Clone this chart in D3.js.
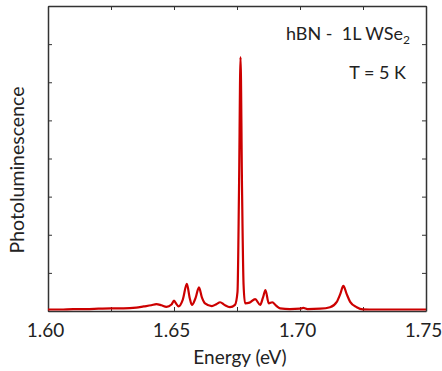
<!DOCTYPE html>
<html>
<head>
<meta charset="utf-8">
<script src="https://cdn.jsdelivr.net/npm/d3@7"></script>
<style>
  body { margin: 0; background: #fff; }
  text { font-family: Lato, "Open Sans", sans-serif; font-weight: 400; fill: #222; white-space: pre; }
</style>
</head>
<body>
<figure id="pl" style="margin:0"></figure>
<script>
// PL spectrum (energy in eV, intensity in arb. units)
const energy = [
  1.600, 1.605, 1.610, 1.615, 1.620, 1.625, 1.630, 1.635, 1.638, 1.641,
  1.643, 1.645, 1.647, 1.649, 1.650, 1.651, 1.6518, 1.6535, 1.6551, 1.6562,
  1.6571, 1.6586, 1.6599, 1.6611, 1.6623, 1.6650, 1.6668, 1.6683, 1.6700, 1.6722,
  1.6742, 1.6752, 1.6758, 1.6764, 1.6770, 1.6776, 1.6782, 1.6800, 1.6822, 1.6842,
  1.6853, 1.6863, 1.6876, 1.6890, 1.6905, 1.6921, 1.6960, 1.7000, 1.7013, 1.7030,
  1.7080, 1.7119, 1.7146, 1.7160, 1.7172, 1.7185, 1.7199, 1.7225, 1.7250, 1.7300,
  1.7400, 1.7500
];
const intensity = [
  0.04, 0.04, 0.05, 0.05, 0.06, 0.07, 0.07, 0.09, 0.12, 0.15,
  0.18, 0.15, 0.11, 0.17, 0.27, 0.18, 0.12, 0.30, 0.71, 0.35,
  0.16, 0.35, 0.62, 0.35, 0.20, 0.13, 0.18, 0.23, 0.16, 0.10,
  0.16, 0.50, 3.20, 6.66, 3.20, 0.70, 0.20, 0.22, 0.31, 0.16,
  0.35, 0.55, 0.20, 0.23, 0.14, 0.07, 0.05, 0.06, 0.08, 0.05,
  0.06, 0.10, 0.24, 0.45, 0.66, 0.45, 0.24, 0.10, 0.045, 0.04,
  0.04, 0.04
];
const xTicks = [1.600, 1.625, 1.650, 1.675, 1.700, 1.725, 1.750];
const xTickLabels = ["1.60", "1.65", "1.70", "1.75"];
const yTicks = [0, 1, 2, 3, 4, 5, 6, 7, 8];
const notes = ["T = 5 K"];

const width = 442, height = 371;
const margin = { top: 6, right: 16, bottom: 60, left: 48 };
const w = width - margin.left - margin.right;
const h = height - margin.top - margin.bottom;

const svg = d3.select("figure#pl")
  .append("svg")
  .attr("width", width)
  .attr("height", height);

const g = svg.append("g")
  .attr("transform", "translate(" + margin.left + "," + margin.top + ")");

const x = d3.scaleLinear().domain([1.60, 1.75]).range([0, w]);
const y = d3.scaleLinear().domain([0, 8]).range([h, 0]);

const axisColor = "#333";

// axes with inward ticks, labels only on the bottom every 0.05
const styleAxis = sel => {
  sel.attr("font-family", null);
  sel.select(".domain").attr("stroke", axisColor).attr("stroke-width", 1.5);
  sel.selectAll(".tick line").attr("stroke", axisColor).attr("stroke-width", 1);
};

const axBottom = g.append("g")
  .attr("transform", "translate(0," + h + ")")
  .call(d3.axisBottom(x).tickValues(xTicks).tickSizeInner(-4).tickSizeOuter(0)
    .tickFormat(d => xTickLabels.includes(d.toFixed(2)) && Math.round(d * 1000) % 50 === 0 ? d.toFixed(2) : ""));
styleAxis(axBottom);
axBottom.selectAll(".tick text")
  .attr("dy", "1.2em")
  .attr("dx", -3)
  .style("font-size", "19px")
  .style("fill", "#222");

const axTop = g.append("g")
  .call(d3.axisTop(x).tickValues(xTicks).tickSizeInner(-4).tickSizeOuter(0).tickFormat(""));
styleAxis(axTop);

const axLeft = g.append("g")
  .call(d3.axisLeft(y).tickValues(yTicks).tickSizeInner(-4).tickSizeOuter(0).tickFormat(""));
styleAxis(axLeft);

const axRight = g.append("g")
  .attr("transform", "translate(" + w + ",0)")
  .call(d3.axisRight(y).tickValues(yTicks).tickSizeInner(-4).tickSizeOuter(0).tickFormat(""));
styleAxis(axRight);

// spectrum
const pts = energy.map((e, i) => [e, intensity[i]]);
g.append("path")
  .datum(pts)
  .attr("fill", "none")
  .attr("stroke", "#cc0000")
  .attr("stroke-width", 2.2)
  .attr("stroke-linejoin", "round")
  .attr("d", d3.line()
    .x(d => x(d[0]))
    .y(d => y(d[1]))
    .curve(d3.curveMonotoneX));

// axis titles
svg.append("text")
  .attr("text-anchor", "middle")
  .attr("x", 240)
  .attr("y", 364)
  .style("font-size", "19px")
  .text("Energy (eV)");

svg.append("text")
  .attr("text-anchor", "middle")
  .attr("transform", "translate(24,170) rotate(-90)")
  .style("font-size", "19.5px")
  .text("Photoluminescence");

// annotations
const label = svg.append("text")
  .attr("text-anchor", "end")
  .attr("x", 410)
  .attr("y", 40)
  .style("font-size", "18px");
label.append("tspan").text("hBN -  1L WSe");
label.append("tspan").attr("dy", 4).style("font-size", "12px").text("2");

svg.selectAll("text.note")
  .data(notes)
  .enter()
  .append("text")
  .attr("class", "note")
  .attr("text-anchor", "end")
  .attr("x", 406)
  .attr("y", 79)
  .style("font-size", "18px")
  .text(d => d);
</script>
</body>
</html>
